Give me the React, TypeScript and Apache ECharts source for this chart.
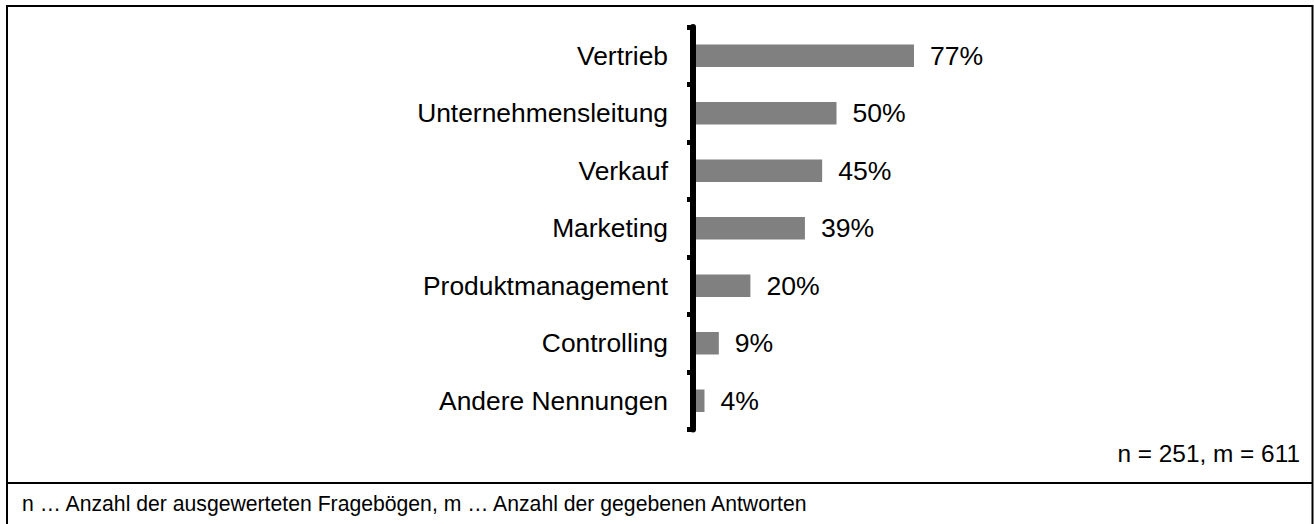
import React, { useEffect, useRef } from 'react';
import * as echarts from 'echarts';

const categories = [
  'Vertrieb',
  'Unternehmensleitung',
  'Verkauf',
  'Marketing',
  'Produktmanagement',
  'Controlling',
  'Andere Nennungen',
];
const values = [77, 50, 45, 39, 20, 9, 4];
const sampleNote = 'n = 251, m = 611';
const footnote = 'n … Anzahl der ausgewerteten Fragebögen, m … Anzahl der gegebenen Antworten';

const FONT = '"Liberation Sans", Arial, Helvetica, sans-serif';
const W = 1314;
const H = 524;

export default function App() {
  const ref = useRef<HTMLDivElement>(null);

  useEffect(() => {
    if (!ref.current) return;
    const chart = echarts.init(ref.current, undefined, { renderer: 'svg' });
    chart.setOption({
      animation: false,
      backgroundColor: '#fff',
      textStyle: { fontFamily: FONT },
      grid: { left: 693, top: 27, width: 287, bottom: 94.5, containLabel: false },
      xAxis: { type: 'value', min: 0, max: 100, show: false },
      yAxis: {
        type: 'category',
        data: categories,
        inverse: true,
        z: 5,
        axisLine: { show: true, lineStyle: { color: '#000', width: 6 } },
        axisTick: { show: true, length: 6, lineStyle: { color: '#000', width: 5 } },
        axisLabel: { margin: 25, fontSize: 26.4, color: '#000', fontFamily: FONT },
        splitLine: { show: false },
      },
      series: [
        {
          type: 'bar',
          data: values,
          barWidth: 22.5,
          itemStyle: { color: '#808080' },
          label: {
            show: true,
            position: 'right',
            distance: 16,
            formatter: '{c}%',
            fontSize: 26.6,
            color: '#000',
            fontFamily: FONT,
          },
        },
      ],
      graphic: [
        {
          type: 'rect',
          shape: { x: 7, y: 6, width: 1305.5, height: 540 },
          style: { fill: 'none', stroke: '#000', lineWidth: 2 },
          silent: true,
        },
        {
          type: 'line',
          shape: { x1: 7, y1: 483, x2: 1312.5, y2: 483 },
          style: { stroke: '#000', lineWidth: 2 },
          silent: true,
        },
        {
          type: 'text',
          x: 1300,
          y: 453,
          style: {
            text: sampleNote,
            align: 'right',
            verticalAlign: 'middle',
            fontSize: 24.4,
            fill: '#000',
            fontFamily: FONT,
          },
        },
        {
          type: 'text',
          x: 22,
          y: 503,
          style: {
            text: footnote,
            align: 'left',
            verticalAlign: 'middle',
            fontSize: 21.2,
            fill: '#000',
            fontFamily: FONT,
          },
        },
      ],
    });
    return () => chart.dispose();
  }, []);

  return (
    <div
      ref={ref}
      style={{ position: 'absolute', left: 0, top: 0, width: W, height: H }}
    />
  );
}
